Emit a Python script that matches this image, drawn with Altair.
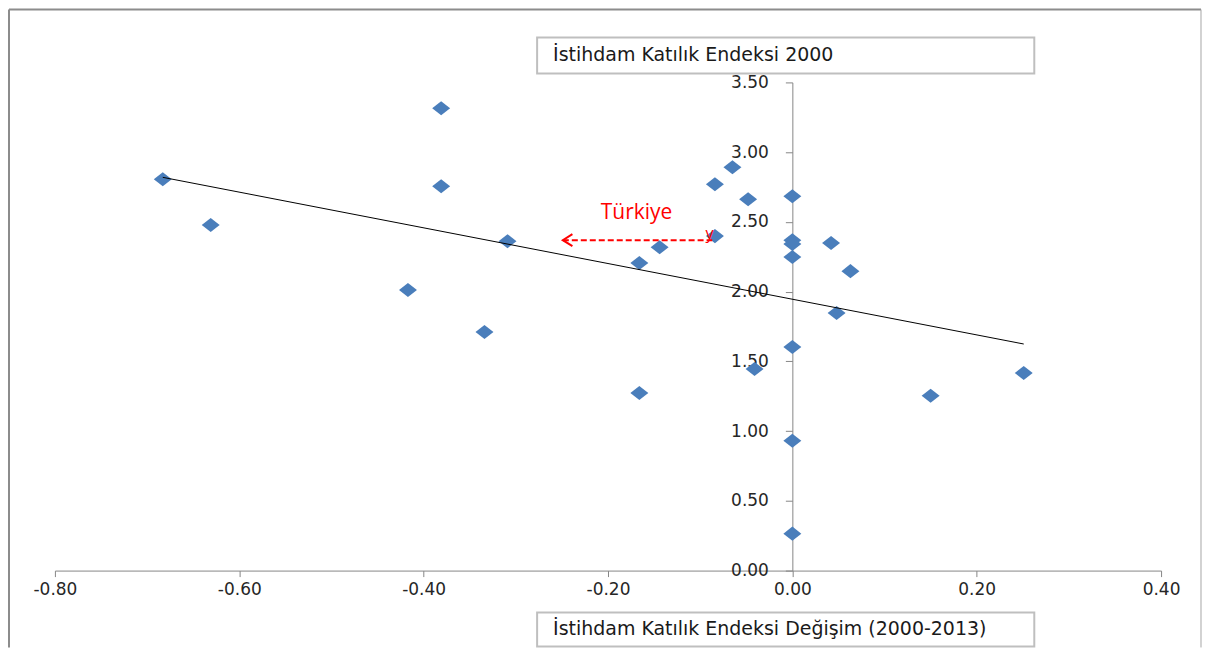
import altair as alt
import pandas as pd

# ---- data ----
x_change = [-0.683, -0.631, -0.381, -0.381, -0.417, -0.309, -0.334, -0.166, -0.166,
            -0.144, -0.084, -0.065, -0.084, -0.048, -0.041, 0.0, 0.0, 0.0, 0.0,
            0.0, 0.0, 0.0, 0.042, 0.063, 0.048, 0.150, 0.251]
y_2000 = [2.806, 2.477, 3.314, 2.756, 2.011, 2.362, 1.711, 2.205, 1.274,
          2.319, 2.770, 2.892, 2.398, 2.663, 1.446, 2.684, 2.369, 2.341, 2.248,
          1.603, 0.931, 0.265, 2.348, 2.147, 1.847, 1.253, 1.417]

x_ticks = [-0.8, -0.6, -0.4, -0.2, 0.0, 0.2, 0.4]
y_ticks = [0.0, 0.5, 1.0, 1.5, 2.0, 2.5, 3.0, 3.5]

y_title = "İstihdam Katılık Endeksi 2000"
x_title = "İstihdam Katılık Endeksi Değişim (2000-2013)"

tr_label = ["Türkiye"]
tr_label_x = [-0.169]
tr_label_y = [2.563]
arrow_x = [-0.087, -0.249]
arrow_y = [2.369, 2.369]

# ---- layout ----
W, H = 1108, 489
XMIN, XMAX = -0.8, 0.4
YMIN, YMAX = 0.0, 3.5
BLUE = "#4A7EBB"
AXIS = "#868686"
LABEL_FONT = "DejaVu Sans"
TEXT_FONT = "Open Sans"

df = pd.DataFrame({"x": x_change, "y": y_2000})
one = pd.DataFrame({"a": [0]})

xscale = alt.Scale(domain=[XMIN, XMAX], nice=False, zero=False)
yscale = alt.Scale(domain=[YMIN, YMAX], nice=False, zero=False)
label_expr = "(datum.value < 0 ? '-' : '') + format(abs(datum.value), '.2f')"

diamond = "M-1,0L0,-0.78L1,0L0,0.78Z"

points = alt.Chart(df).mark_point(
    shape=diamond, filled=True, size=324, color=BLUE, opacity=1
).encode(
    x=alt.X("x:Q", scale=xscale,
            axis=alt.Axis(values=x_ticks, labelExpr=label_expr, title=None, grid=False,
                          domainColor=AXIS, tickColor=AXIS, tickSize=6, labelPadding=5,
                          labelFont=LABEL_FONT, labelFontSize=17, labelColor="#262626",
                          labelFlush=False)),
    y=alt.Y("y:Q", scale=yscale,
            axis=alt.Axis(values=y_ticks, labelExpr=label_expr, title=None, grid=False,
                          domainColor=AXIS, tickColor=AXIS, tickSize=7, labelPadding=17,
                          labelFont=LABEL_FONT, labelFontSize=17, labelColor="#262626",
                          labelFlush=False, offset=-W * (0 - XMIN) / (XMAX - XMIN))),
)

trend = alt.Chart(df).transform_regression("x", "y").mark_line(
    color="#000000", strokeWidth=1
).encode(x=alt.X("x:Q", scale=xscale), y=alt.Y("y:Q", scale=yscale))

arrow_df = pd.DataFrame({"x": arrow_x, "y": arrow_y})
arrow = alt.Chart(arrow_df).mark_line(
    color="#FF0000", strokeWidth=2, strokeDash=[6, 3]
).encode(x=alt.X("x:Q", scale=xscale), y=alt.Y("y:Q", scale=yscale))

head_df = pd.DataFrame({"x": arrow_x[1:], "y": arrow_y[1:]})
head = alt.Chart(head_df).mark_point(
    shape="M1.6,-1L0,0L1.6,1", filled=False, size=144, stroke="#FF0000",
    strokeWidth=2, opacity=1
).encode(x=alt.X("x:Q", scale=xscale), y=alt.Y("y:Q", scale=yscale))

tail_df = pd.DataFrame({"x": [arrow_x[0] - 0.003], "y": [arrow_y[0] + 0.045], "t": ["y"]})
tail = alt.Chart(tail_df).mark_text(
    color="#FF0000", font=TEXT_FONT, fontSize=16
).encode(x=alt.X("x:Q", scale=xscale), y=alt.Y("y:Q", scale=yscale), text="t:N")

lab_df = pd.DataFrame({"x": tr_label_x, "y": tr_label_y, "t": tr_label})
lab = alt.Chart(lab_df).mark_text(
    color="#FF0000", font=TEXT_FONT, fontSize=21
).encode(x=alt.X("x:Q", scale=xscale), y=alt.Y("y:Q", scale=yscale), text="t:N")

# ---- outer frame (top, left, right edges) ----
FL, FR, FT, FB = -46, 1148, -73, 566
frame_top = alt.Chart(one).mark_rule(color="#8C8C8C", strokeWidth=2).encode(
    x=alt.value(FL), x2=alt.value(FR), y=alt.value(FT))
frame_left = alt.Chart(one).mark_rule(color="#8C8C8C", strokeWidth=2).encode(
    x=alt.value(FL), y=alt.value(FT), y2=alt.value(FB))
frame_right = alt.Chart(one).mark_rule(color="#A6A6A6", strokeWidth=1).encode(
    x=alt.value(FR), y=alt.value(FT), y2=alt.value(FB))

# ---- title boxes ----
def title_box(x0, x1, y0, y1, text):
    box = alt.Chart(one).mark_rect(
        fill="#FFFFFF", stroke="#BFBFBF", strokeWidth=2
    ).encode(x=alt.value(x0), x2=alt.value(x1), y=alt.value(y0), y2=alt.value(y1))
    txt = alt.Chart(pd.DataFrame({"t": [text]})).mark_text(
        align="left", baseline="middle", font=LABEL_FONT, fontSize=19, color="#1A1A1A"
    ).encode(x=alt.value(x0 + 16), y=alt.value((y0 + y1) / 2), text="t:N")
    return box + txt

top_box = title_box(483, 981, -45, -9, y_title)
bottom_box = title_box(483, 981, 531, 565, x_title)

chart = alt.layer(
    frame_top, frame_left, frame_right, top_box, bottom_box,
    points, trend, arrow, head, tail, lab
).properties(width=W, height=H, padding=0, background="#FFFFFF").configure_view(strokeWidth=0)

chart.save("out.html", embed_options={"renderer": "svg", "actions": False})
